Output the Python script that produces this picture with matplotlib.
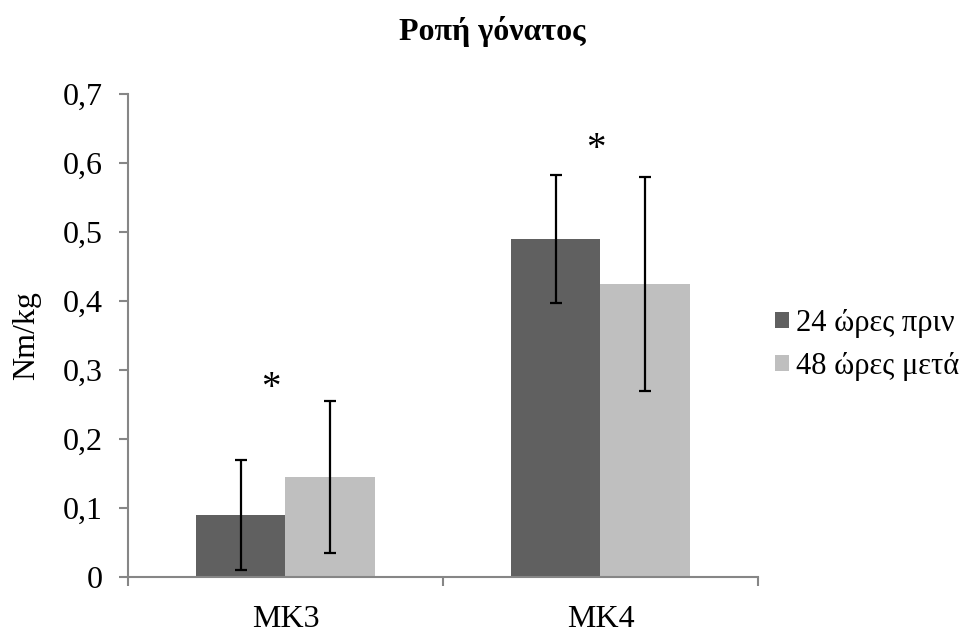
import numpy as np
import matplotlib.pyplot as plt

plt.rcParams['font.family'] = ['Liberation Serif', 'DejaVu Serif']

# data
groups = ['MK3', 'MK4']
series = ['24 ώρες πριν', '48 ώρες μετά']
means_before = [0.090, 0.490]
sd_before = [0.080, 0.093]
means_after = [0.145, 0.424]
sd_after = [0.110, 0.155]
star_y = [0.273, 0.620]

colors = ['#606060', '#bfbfbf']
axis_col = '#868686'

fig = plt.figure(figsize=(9.71, 6.36), dpi=100)
ax = fig.add_axes([0.1318, 0.0928, 0.6488, 0.7594])

x = np.arange(len(groups))
w = 0.283
err_kw = dict(ecolor='black', elinewidth=1.6, capsize=4.5, capthick=1.6)
ax.bar(x - w / 2, means_before, w, yerr=sd_before, color=colors[0],
       label=series[0], error_kw=err_kw)
ax.bar(x + w / 2, means_after, w, yerr=sd_after, color=colors[1],
       label=series[1], error_kw=err_kw)

# significance markers (slightly left of group centre, as in the original)
star_dx = [-0.048, -0.016]
for xi, dx, yi in zip(x, star_dx, star_y):
    ax.text(xi + dx, yi, '*', ha='center', va='center', fontsize=28)

ax.set_xlim(-0.5, len(groups) - 0.5)
ax.set_ylim(0, 0.7)
ax.set_yticks(np.arange(0, 0.71, 0.1))
ax.set_yticklabels(['0'] + ['0,%d' % i for i in range(1, 8)])
ax.set_xticks(x)
ax.set_xticklabels(groups)
ax.set_xticks(np.arange(-0.5, len(groups), 1.0), minor=True)

for s in ['top', 'right']:
    ax.spines[s].set_visible(False)
for s in ['left', 'bottom']:
    ax.spines[s].set_color(axis_col)
    ax.spines[s].set_linewidth(1.5)

ax.tick_params(axis='y', length=6.5, width=1.5, color=axis_col, labelsize=23, pad=12)
ax.tick_params(axis='x', which='major', length=0, labelsize=23, pad=20)
ax.tick_params(axis='x', which='minor', length=6.5, width=1.5, color=axis_col)

ax.set_ylabel('Nm/kg', fontsize=23, labelpad=15)
fig.text(0.507, 0.95, 'Ροπή γόνατος', ha='center', va='center',
         fontsize=23, fontweight='bold')

ax.legend(loc='center left', bbox_to_anchor=(0.798, 0.4575),
          bbox_transform=fig.transFigure, frameon=False, fontsize=22,
          borderpad=0, borderaxespad=0, handlelength=0.45, handleheight=0.45,
          handletextpad=0.25, labelspacing=0.45)

plt.savefig('out.png', format='png')
